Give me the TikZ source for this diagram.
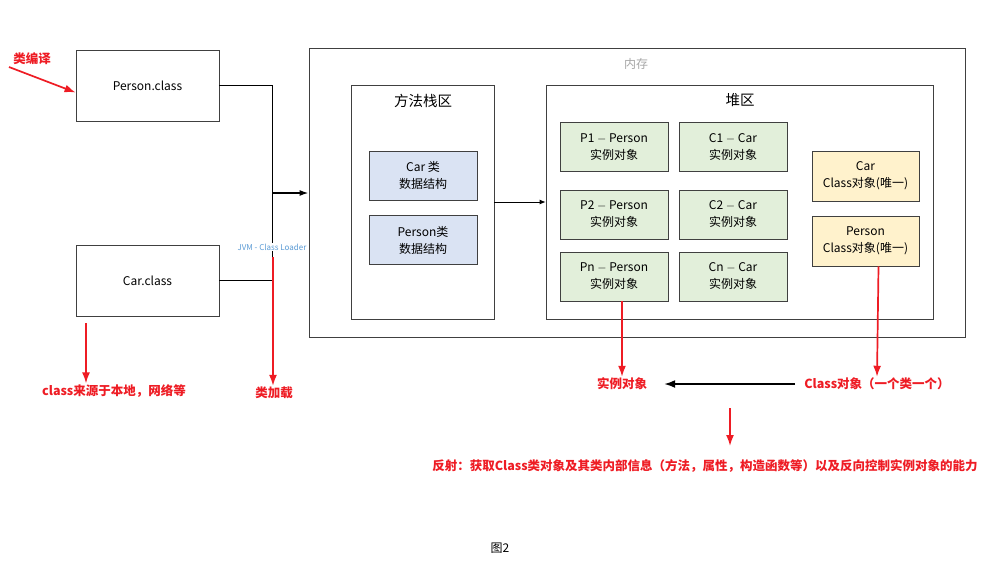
\documentclass[tikz,border=0pt]{standalone}
\usepackage{fontspec}
\setmainfont{Noto Sans CJK SC}
\usetikzlibrary{arrows.meta}
\definecolor{redmark}{HTML}{EE1C24}
\definecolor{boxline}{HTML}{404040}
\definecolor{dsfill}{HTML}{DAE3F3}
\definecolor{objfill}{HTML}{E2EFDA}
\definecolor{clsfill}{HTML}{FFF2CC}
\definecolor{loader}{HTML}{5B9BD5}
\begin{document}
\begin{tikzpicture}[
  x=1pt, y=-1pt,
  font=\fontsize{12}{17}\selectfont,
  filebox/.style={draw=boxline, line width=0.8pt, align=center, minimum width=143pt, minimum height=71pt, inner sep=0pt},
  area/.style={draw=boxline, line width=0.8pt, inner sep=0pt},
  dsbox/.style={draw=boxline, line width=0.8pt, fill=dsfill, align=center, minimum width=108pt, minimum height=49pt, inner sep=0pt},
  objbox/.style={draw=boxline, line width=0.8pt, fill=objfill, align=center, minimum width=108pt, minimum height=49pt, inner sep=0pt},
  clsbox/.style={draw=boxline, line width=0.8pt, fill=clsfill, align=center, minimum width=107pt, minimum height=50pt, inner sep=0pt},
  note/.style={text=redmark, font=\fontsize{12.5}{15}\selectfont\bfseries, inner sep=1pt},
  redarrow/.style={-{Latex[length=11pt,width=8pt]}, draw=redmark, line width=1.7pt},
  blackarrow/.style={-{Latex[length=11pt,width=8pt]}, line width=1.7pt}
]
\useasboundingbox (0,0) rectangle (1006,574);
% class files
\node[filebox] (personfile) at (147.5,85.5) {Person.class};
\node[filebox] (carfile) at (147.5,280.5) {Car.class};
% memory and its areas
\node[area, minimum width=656pt, minimum height=289pt] (mem) at (637,192.5) {};
\node[text=gray!70] (memlabel) at (636,64) {内存};
\node[area, minimum width=143pt, minimum height=234pt] (method) at (422.5,202) {};
\node[font=\fontsize{14.5}{17}\selectfont] (methodlabel) at (423,101) {方法栈区};
\node[area, minimum width=387pt, minimum height=234pt] (heap) at (739.5,202) {};
\node[font=\fontsize{14.5}{17}\selectfont] (heaplabel) at (740,100) {堆区};
\node[dsbox] (cards) at (423,175.5) {Car 类\\数据结构};
\node[dsbox] (personds) at (423,240) {Person类\\数据结构};
\node[objbox] (p1) at (614,147) {P1 $-$ Person\\实例对象};
\node[objbox] (c1) at (733,147) {C1 $-$ Car\\实例对象};
\node[objbox] (p2) at (614,214.5) {P2 $-$ Person\\实例对象};
\node[objbox] (c2) at (733,214.5) {C2 $-$ Car\\实例对象};
\node[objbox] (pn) at (614,276.5) {Pn $-$ Person\\实例对象};
\node[objbox] (cn) at (733,276.5) {Cn $-$ Car\\实例对象};
\node[clsbox] (carcls) at (865.5,176) {Car\\Class对象(唯一)};
\node[clsbox] (personcls) at (865.5,241) {Person\\Class对象(唯一)};
% class loader
\coordinate (join) at (272,193);
\draw[line width=1pt] (personfile.east) -| (join);
\draw[line width=1pt] (carfile.east) -| (join);
\draw[line width=1.6pt, -{Latex[length=9pt,width=6pt]}] (join) -- (join -| mem.west);
\node[fill=white, text=loader, font=\fontsize{8}{10}\selectfont, inner sep=1pt] (loaderlabel) at (272,247) {JVM - Class Loader};
\draw[-{Latex[length=6pt,width=5pt]}, line width=0.8pt] (method.east) -- (heap.west);
% red notes
\node[note] (compile) at (32,59) {类编译};
\coordinate (compilestart) at (9,67);
\draw[redarrow] (compilestart) -- ([yshift=-7pt]personfile.west);
\node[note] (source) at (114,391) {class来源于本地，网络等};
\coordinate (sourcestart) at (86,323);
\draw[redarrow] (sourcestart) -- (sourcestart |- source.north);
\node[note] (load) at (274,393) {类加载};
\coordinate (loadstart) at (273,257);
\draw[redarrow] (loadstart) -- (loadstart |- load.north);
\node[note] (inst) at (622,384) {实例对象};
\draw[redarrow] ([xshift=8pt]pn.south) -- (inst.north);
\node[note] (clsobj) at (877,384) {Class对象（一个类一个）};
\draw[redarrow] ([xshift=13pt]personcls.south) -- (clsobj.north);
\draw[blackarrow, shorten <=8pt, shorten >=16pt] (clsobj.west) -- (inst.east);
\coordinate (reflstart) at (730,408);
\coordinate (reflend) at (730,446);
\draw[redarrow] (reflstart) -- (reflend);
\node[note] (refl) at (705,466) {反射：获取Class类对象及其类内部信息（方法，属性，构造函数等）以及反向控制实例对象的能力};
% caption
\node (caption) at (500,548) {图2};
\end{tikzpicture}
\end{document}
